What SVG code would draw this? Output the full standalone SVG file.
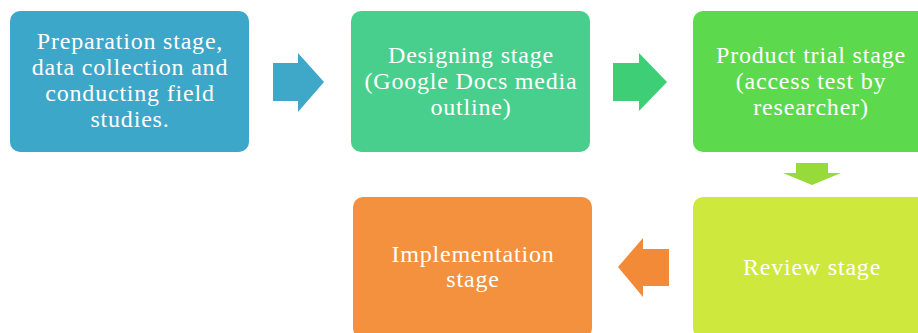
<svg xmlns="http://www.w3.org/2000/svg" width="918" height="333" viewBox="0 0 918 333">
  <style>
    .box { stroke: none; }
    .lbl { font-family: "Liberation Serif", "Times New Roman", serif; font-size: 24px; fill: #ffffff; text-anchor: middle; letter-spacing: 0.8px; }
  </style>
  <rect width="918" height="333" fill="#ffffff"/>
  <g id="connectors">
    <polygon id="arrow1" fill="#3fa8c8" points="273,63 298,63 298,53 324,82 298,112 298,101 273,101"/>
    <polygon id="arrow2" fill="#3ecf76" points="613,63 639,63 639,53 667,82 639,111 639,101 613,101"/>
    <polygon id="arrow3" fill="#96db3a" points="796,163 828,163 828,173 841,173 812,185 783,173 796,173"/>
    <polygon id="arrow4" fill="#f28a38" points="669,249 643,249 643,238 618,267 643,297 643,286 669,286"/>
  </g>
  <g id="node-preparation">
    <rect class="box" x="10" y="11" width="239" height="141" rx="10" fill="#3ca7c9"/>
    <text class="lbl" x="130" y="49">Preparation stage,</text>
    <text class="lbl" x="130" y="75">data collection and</text>
    <text class="lbl" x="130" y="101">conducting field</text>
    <text class="lbl" x="130" y="127">studies.</text>
  </g>
  <g id="node-designing">
    <rect class="box" x="351" y="11" width="239" height="141" rx="10" fill="#48cf8d"/>
    <text class="lbl" x="471" y="63">Designing stage</text>
    <text class="lbl" x="471" y="89">(Google Docs media</text>
    <text class="lbl" x="471" y="115">outline)</text>
  </g>
  <g id="node-trial">
    <rect class="box" x="693" y="11" width="239" height="141" rx="10" fill="#5cd94c"/>
    <text class="lbl" x="811" y="63">Product trial stage</text>
    <text class="lbl" x="811" y="89">(access test by</text>
    <text class="lbl" x="811" y="115">researcher)</text>
  </g>
  <g id="node-review">
    <rect class="box" x="693" y="197" width="239" height="141" rx="10" fill="#cee83d"/>
    <text class="lbl" x="812" y="275">Review stage</text>
  </g>
  <g id="node-implementation">
    <rect class="box" x="353" y="197" width="239" height="141" rx="10" fill="#f4913f"/>
    <text class="lbl" x="473" y="262">Implementation</text>
    <text class="lbl" x="473" y="287">stage</text>
  </g>
</svg>
